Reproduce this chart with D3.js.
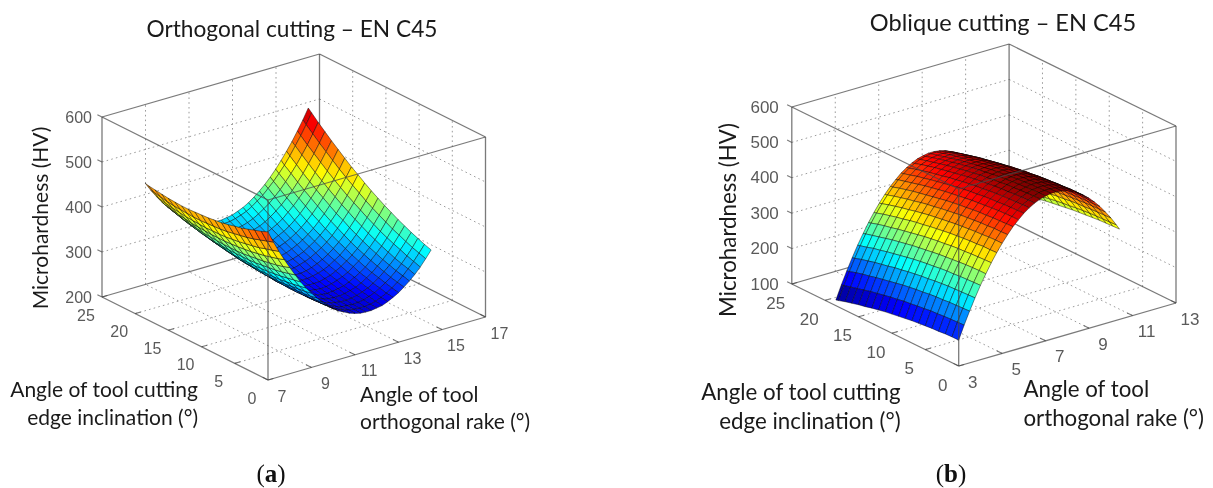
<!DOCTYPE html>
<html><head><meta charset="utf-8">
<script src="https://cdn.jsdelivr.net/npm/d3@7/dist/d3.min.js"></script>
<style>html,body{margin:0;padding:0;background:#fff}svg{display:block;filter:blur(0.45px)}</style>
</head><body><svg id="c" width="1213" height="488"></svg>
<script>
// ---------- data ----------
const rakeA = [7,7.25,7.5,7.75,8,8.25,8.5,8.75,9,9.25,9.5,9.75,10,10.25,10.5,10.75,11,11.25,11.5,11.75,12,12.25,12.5,12.75,13,13.25,13.5,13.75,14,14.25,14.5];
const tiltA = [0,1,2,3,4,5,6,7,8,9,10,11,12,13,14,15,16,17,18,18.5];
// one row per tilt value, one column per rake value
const hardnessA = [
[529,503,479,457,436,416,397,380,365,351,338,327,317,308,302,296,292,289,288,288,290,292,297,303,310,319,329,340,353,368,384],
[523,498,474,452,431,412,394,377,362,348,336,325,316,307,301,296,292,290,289,289,291,294,299,305,313,322,333,345,358,373,389],
[518,493,470,448,427,408,391,374,360,346,334,324,315,307,301,296,292,291,290,291,293,297,302,309,317,326,337,349,363,378,395],
[513,488,465,444,424,405,388,372,358,345,333,323,314,307,301,297,294,292,292,293,296,300,305,312,321,331,342,354,369,384,401],
[508,484,462,441,421,403,386,370,356,344,332,323,314,307,302,298,295,294,294,296,299,303,309,317,325,336,347,360,375,391,408],
[505,481,459,438,419,401,384,369,355,343,332,323,315,308,303,300,297,296,297,299,302,307,314,321,330,341,353,366,381,397,415],
[501,478,456,436,417,399,383,368,355,343,333,324,316,310,305,302,300,299,300,303,307,312,318,327,336,347,359,373,388,405,423],
[498,475,454,434,415,398,382,368,355,344,333,325,318,312,307,304,303,303,304,307,311,317,324,332,342,353,366,380,396,413,431],
[496,473,452,433,414,398,382,368,356,345,335,327,320,314,310,308,307,307,309,312,316,322,330,338,349,360,373,388,404,421,440],
[494,472,451,432,414,398,382,369,357,346,337,329,322,317,314,311,311,311,313,317,322,328,336,345,356,368,381,396,413,430,449],
[493,471,451,432,414,398,383,370,358,348,339,331,325,321,318,316,315,316,319,323,328,335,343,352,363,376,390,405,422,440,459],
[492,470,450,432,415,399,385,372,360,350,342,335,329,325,322,320,320,322,325,329,334,342,350,360,371,384,398,414,431,450,470],
[491,470,451,433,416,400,387,374,363,353,345,338,333,329,327,326,326,328,331,336,342,349,358,368,380,393,408,424,441,460,480],
[491,471,452,434,417,402,389,377,366,357,349,343,338,334,332,331,332,334,338,343,349,357,366,377,389,403,418,434,452,471,492],
[492,472,453,435,420,405,392,380,370,361,353,347,343,340,338,338,339,341,345,351,357,365,375,386,399,413,428,445,463,483,504],
[493,473,455,438,422,408,395,384,374,365,358,353,348,346,344,344,346,349,353,359,366,374,385,396,409,423,439,456,475,495,516],
[495,475,457,440,425,411,399,388,378,370,364,358,355,352,351,351,353,357,361,367,375,384,394,406,419,434,450,468,487,507,529],
[497,478,460,444,429,415,403,393,384,376,369,364,361,359,358,359,361,365,370,377,385,394,405,417,431,446,462,480,499,520,542],
[499,481,463,447,433,420,408,398,389,382,376,371,368,366,366,367,370,374,379,386,395,404,416,428,442,457,474,493,512,533,556],
[501,482,465,449,435,422,411,401,392,385,379,375,372,370,370,372,374,379,384,391,400,410,421,434,448,464,481,499,519,540,563]
];
const rakeB = [3,3.25,3.5,3.75,4,4.25,4.5,4.75,5,5.25,5.5,5.75,6,6.25,6.5,6.75,7,7.25,7.5,7.75,8,8.25,8.5,8.75,9,9.25,9.5,9.75,10,10.25,10.4];
const tiltB = [0,1,2,3,4,5,6,7,8,9,10,11,12,13,14,15,16,17,18,18.4];
const hardnessB = [
[173,211,246,279,310,338,365,389,411,431,449,464,478,489,498,505,509,512,512,510,506,499,491,480,467,452,435,415,394,370,355],
[173,210,245,278,309,338,364,388,411,430,448,464,477,488,497,504,509,511,511,509,505,499,490,479,467,451,434,415,393,369,354],
[172,209,244,277,308,337,363,388,410,430,447,463,476,487,496,503,508,510,510,508,504,498,489,479,466,451,433,414,392,368,353],
[170,208,243,276,307,336,362,386,408,428,446,462,475,486,495,502,506,509,509,507,503,497,488,477,464,449,432,413,391,367,352],
[169,206,241,275,305,334,360,385,407,427,444,460,473,485,493,500,505,507,507,506,501,495,486,476,463,448,430,411,389,366,350],
[167,205,240,273,304,332,359,383,405,425,443,458,472,483,492,499,503,506,506,504,500,493,485,474,461,446,429,409,388,364,348],
[165,202,238,271,302,330,357,381,403,423,441,456,470,481,490,496,501,503,504,502,498,491,483,472,459,444,427,407,386,362,346],
[163,200,235,268,299,328,354,379,401,421,438,454,467,478,487,494,499,501,501,499,495,489,480,470,457,442,424,405,383,359,344],
[160,197,233,266,297,325,352,376,398,418,436,451,465,476,485,491,496,498,499,497,493,486,478,467,454,439,422,402,381,357,341],
[157,195,230,263,294,322,349,373,395,415,433,448,462,473,482,489,493,496,496,494,490,483,475,464,451,436,419,399,378,354,338],
[154,191,227,260,291,319,346,370,392,412,430,445,459,470,479,485,490,492,493,491,487,480,472,461,448,433,416,396,375,351,335],
[151,188,223,256,287,316,342,366,389,408,426,442,455,466,475,482,487,489,489,487,483,477,468,457,445,429,412,393,371,347,332],
[147,184,219,253,283,312,338,363,385,405,422,438,451,463,471,478,483,485,485,484,479,473,464,454,441,426,408,389,367,344,328],
[143,180,215,248,279,308,334,359,381,401,418,434,447,458,467,474,479,481,481,479,475,469,460,450,437,422,404,385,363,339,324],
[138,176,211,244,275,304,330,354,376,396,414,430,443,454,463,470,474,477,477,475,471,465,456,445,432,417,400,381,359,335,320],
[134,171,206,240,270,299,325,350,372,392,410,425,438,450,459,465,470,472,473,471,466,460,452,441,428,413,396,376,354,331,315],
[129,166,202,235,266,294,321,345,367,387,405,420,434,445,454,460,465,467,468,466,462,455,447,436,423,408,391,371,350,326,310],
[124,161,197,230,260,289,316,340,362,382,400,415,428,440,449,455,460,462,463,461,456,450,442,431,418,403,386,366,344,321,305],
[118,156,191,224,255,284,310,334,356,376,394,410,423,434,443,450,454,457,457,455,451,445,436,425,412,397,380,361,339,315,300],
[116,154,189,222,253,281,308,332,354,374,392,407,421,432,441,448,452,455,455,453,449,442,434,423,410,395,378,358,337,313,298]
];
const rakeTicksA = [7,9,11,13,15,17];
const rakeTicksB = [3,5,7,9,11,13];
const tiltTicks = [0,5,10,15,20,25];
const hvTicksA = [200,300,400,500,600];
const hvTicksB = [100,200,300,400,500,600];
const titleA = "Orthogonal cutting – EN C45";
const titleB = "Oblique cutting – EN C45";
const hvLabel = "Microhardness (HV)";
const tiltLabel = ["Angle of tool cutting","edge inclination (°)"];
const rakeLabel = ["Angle of tool","orthogonal rake (°)"];

// ---------- layout ----------
const panels = [
 {rake:rakeA,tilt:tiltA,hv:hardnessA,rakeTicks:rakeTicksA,hvTicks:hvTicksA,title:titleA,
  front:[268,380],rakeVec:[217.5,-63],tiltVec:[-166,-83],hvH:180,colorDom:[263,575],
  titleXY:[292,28],hvXY:[39,218],tiltXY:[198,388,416],rakeXY:[360,393,420],tag:"a",tagXY:[271,473],hvLabelGap:10,
  titleSize:22.7,labelSize:21,tickSize:16,tiltDrop:18},
 {rake:rakeB,tilt:tiltB,hv:hardnessB,rakeTicks:rakeTicksB,hvTicks:hvTicksB,title:titleB,
  front:[958.7,366],rakeVec:[217.3,-63],tiltVec:[-166.9,-82],hvH:177,colorDom:[128,508],
  titleXY:[1003,22],hvXY:[727,220],tiltXY:[900.6,391,420],rakeXY:[1023.4,388,417],tag:"b",tagXY:[951,473],hvLabelGap:13,
  titleSize:23.6,labelSize:22.3,tickSize:17,tiltDrop:19}
];
const svg = d3.select("#c");
const UI = "Lato, 'Open Sans', sans-serif", AX = "'Liberation Sans', Arial, sans-serif";
const boxStroke = "rgba(70,70,70,0.72)";
const jetStops = [0,.125,.375,.625,.875,1];
const jetColors = ["#00008f","#0000ff","#00ffff","#ffff00","#ff0000","#800000"];

panels.forEach(p=>{
  const g = svg.append("g");
  const rD=[p.rakeTicks[0],p.rakeTicks[p.rakeTicks.length-1]], tD=[0,25], zD=[p.hvTicks[0],600];
  const rx=d3.scaleLinear(rD,[0,p.rakeVec[0]]), ry=d3.scaleLinear(rD,[0,p.rakeVec[1]]);
  const tx=d3.scaleLinear(tD,[0,p.tiltVec[0]]), ty=d3.scaleLinear(tD,[0,p.tiltVec[1]]);
  const zy=d3.scaleLinear(zD,[0,-p.hvH]);
  const P=(r,t,z)=>[p.front[0]+rx(r)+tx(t), p.front[1]+ry(r)+ty(t)+zy(z)];
  const seg=(a,b,st,w,dash,layer)=> (layer||g).append("line").attr("x1",a[0]).attr("y1",a[1]).attr("x2",b[0]).attr("y2",b[1])
     .attr("stroke",st).attr("stroke-width",w).attr("stroke-dasharray",dash||null);
  const [r0,r1]=rD,[t0,t1]=tD,[z0,z1]=zD;

  // dotted grid on floor and back walls
  const gridC="#9c9c9c", dash="1.6 3.2";
  p.rakeTicks.slice(1,-1).forEach(r=>{ seg(P(r,t0,z0),P(r,t1,z0),gridC,1,dash); seg(P(r,t1,z0),P(r,t1,z1),gridC,1,dash); });
  tiltTicks.slice(1,-1).forEach(t=>{ seg(P(r0,t,z0),P(r1,t,z0),gridC,1,dash); seg(P(r1,t,z0),P(r1,t,z1),gridC,1,dash); });
  p.hvTicks.slice(1,-1).forEach(z=>{ seg(P(r0,t1,z),P(r1,t1,z),gridC,1,dash); seg(P(r1,t1,z),P(r1,t0,z),gridC,1,dash); });

  // box edges behind the surface
  [[[r0,t1,z0],[r1,t1,z0]],[[r1,t1,z0],[r1,t0,z0]],[[r0,t0,z0],[r0,t1,z0]],[[r0,t0,z0],[r1,t0,z0]],
   [[r0,t1,z0],[r0,t1,z1]],[[r1,t1,z0],[r1,t1,z1]],[[r1,t0,z0],[r1,t0,z1]],
   [[r0,t1,z1],[r1,t1,z1]],[[r1,t1,z1],[r1,t0,z1]]]
   .forEach(([a,b])=>seg(P(...a),P(...b),boxStroke,1.3));

  // ticks
  p.rakeTicks.forEach(r=>seg(P(r,t0,z0),P(r,t0+0.8,z0),boxStroke,1.1));
  tiltTicks.forEach(t=>seg(P(r0,t,z0),P(r0+(r1-r0)*0.025,t,z0),boxStroke,1.1));
  p.hvTicks.forEach(z=>seg(P(r0,t1,z),P(r0,t1+0.7,z),boxStroke,1.1));

  // surface, far cells first
  const dom=p.colorDom, jet=d3.scaleLinear(jetStops.map(s=>dom[0]+s*(dom[1]-dom[0])),jetColors).clamp(true);
  const cells=[];
  for(let j=p.tilt.length-2;j>=0;j--) for(let i=p.rake.length-2;i>=0;i--) cells.push([i,j]);
  g.append("g").selectAll("path").data(cells).join("path")
   .attr("d",([i,j])=>{
     const q=[[i,j],[i+1,j],[i+1,j+1],[i,j+1]].map(([a,b])=>P(p.rake[a],p.tilt[b],p.hv[b][a]));
     return "M"+q.map(c=>c[0].toFixed(2)+","+c[1].toFixed(2)).join("L")+"Z";
   })
   .attr("fill",([i,j])=>jet((p.hv[j][i]+p.hv[j][i+1]+p.hv[j+1][i]+p.hv[j+1][i+1])/4))
   .attr("stroke","rgba(0,0,0,0.55)").attr("stroke-width",0.8).attr("stroke-linejoin","round");

  // box edges in front of the surface
  [[[r0,t0,z0],[r0,t0,z1]],[[r0,t0,z1],[r0,t1,z1]],[[r0,t0,z1],[r1,t0,z1]]]
   .forEach(([a,b])=>seg(P(...a),P(...b),boxStroke,1.3));

  // tick labels
  const tickStyle=s=>s.attr("font-family",AX).attr("font-size",p.tickSize).attr("fill","#5a5a5a").attr("dominant-baseline","central");
  g.append("g").selectAll("text").data(p.hvTicks).join("text").call(tickStyle)
   .attr("text-anchor","end").attr("x",d=>P(r0,t1,d)[0]-p.hvLabelGap).attr("y",d=>P(r0,t1,d)[1]).text(d=>d);
  g.append("g").selectAll("text").data(tiltTicks).join("text").call(tickStyle)
   .attr("text-anchor","middle").attr("x",d=>P(r0,d,z0)[0]-16).attr("y",d=>P(r0,d,z0)[1]+p.tiltDrop).text(d=>d);
  g.append("g").selectAll("text").data(p.rakeTicks).join("text").call(tickStyle)
   .attr("text-anchor","middle").attr("x",d=>P(d,t0,z0)[0]+14).attr("y",d=>P(d,t0,z0)[1]+16).text(d=>d);

  // titles and axis labels
  const lab=(txt,x,y,anchor,size,rot)=>{const e=g.append("text").attr("font-family",UI).attr("font-size",size).attr("fill","#1a1a1a")
     .attr("text-anchor",anchor).attr("dominant-baseline","central").attr("x",x).attr("y",y).text(txt);
     if(rot) e.attr("transform",`rotate(${rot} ${x} ${y})`); return e;};
  lab(p.title,p.titleXY[0],p.titleXY[1],"middle",p.titleSize);
  lab(hvLabel,p.hvXY[0],p.hvXY[1],"middle",p.labelSize,-90);
  lab(tiltLabel[0],p.tiltXY[0],p.tiltXY[1],"end",p.labelSize);
  lab(tiltLabel[1],p.tiltXY[0],p.tiltXY[2],"end",p.labelSize);
  lab(rakeLabel[0],p.rakeXY[0],p.rakeXY[1],"start",p.labelSize);
  lab(rakeLabel[1],p.rakeXY[0],p.rakeXY[2],"start",p.labelSize);
  const tag=g.append("text").attr("font-family","'Liberation Serif', serif").attr("font-size",25).attr("fill","#111")
    .attr("text-anchor","middle").attr("dominant-baseline","central").attr("x",p.tagXY[0]).attr("y",p.tagXY[1]);
  tag.append("tspan").text("(");tag.append("tspan").attr("font-weight","bold").text(p.tag);tag.append("tspan").text(")");
});
</script></body></html>
